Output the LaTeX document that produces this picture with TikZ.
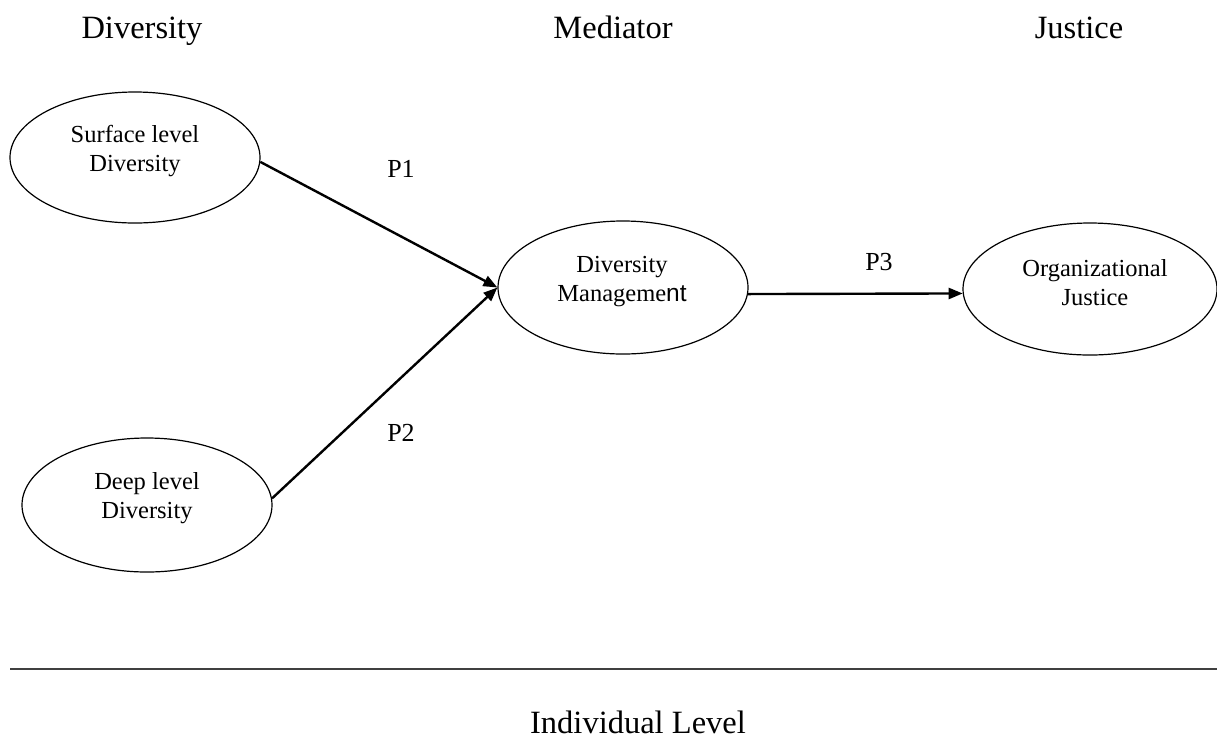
\documentclass[tikz,border=0pt]{standalone}
\usepackage{fontspec}
\setmainfont{Liberation Serif}
\newfontfamily\sanstail{Liberation Sans}
\usetikzlibrary{shapes.geometric,arrows.meta}
\begin{document}
\begin{tikzpicture}[x=1pt,y=-1pt,
  ell/.style={draw, ellipse, line width=1.2pt, inner sep=0pt},
  etext/.style={align=center, font=\fontsize{24.5}{29}\selectfont, inner sep=0pt},
  head/.style={font=\fontsize{32.5}{39}\selectfont, inner sep=0pt, anchor=base},
  plabel/.style={font=\fontsize{26}{31}\selectfont, inner sep=0pt, anchor=base},
  conn/.style={line width=2.4pt, -{Triangle[length=14pt,width=11pt]}},
  rule/.style={line width=2pt, color=black!75}]
\useasboundingbox (0,0) rectangle (1217,740);
% headers
\node[head] (hdiv) at (142,38) {Diversity};
\node[head] (hmed) at (613,38) {Mediator};
\node[head] (hjus) at (1079,38) {Justice};
% ellipses
\node[ell, minimum width=250pt, minimum height=131pt] (sur) at (135,157.5) {};
\node[ell, minimum width=250pt, minimum height=134pt] (deep) at (147,505) {};
\node[ell, minimum width=250pt, minimum height=133pt] (dm) at (623,287.5) {};
\node[ell, minimum width=254pt, minimum height=132pt] (oj) at (1090,289) {};
% ellipse texts
\node[etext] (surt) at (135,151) {Surface level\\Diversity};
\node[etext] (deept) at (147,498) {Deep level\\Diversity};
\node[etext] (dmt) at (622,282) {Diversity\\Manageme{\sanstail nt}};
\node[etext] (ojt) at (1095,283) {Organizational\\Justice};
% connectors
\draw[conn] (sur.-2) -- (dm.west);
\draw[conn] (deep.3) -- (dm.west);
\draw[conn] (dm.-3) -- (oj.182);
% proposition labels
\node[plabel] (p1) at (401,177) {P1};
\node[plabel] (p2) at (401,441) {P2};
\node[plabel] (p3) at (879,270) {P3};
% rule and level
\coordinate (ruleL) at (10,669);
\coordinate (ruleR) at (1217,669);
\draw[rule] (ruleL) -- (ruleR);
\node[head] (lvl) at (638,733) {Individual Level};
\end{tikzpicture}
\end{document}
